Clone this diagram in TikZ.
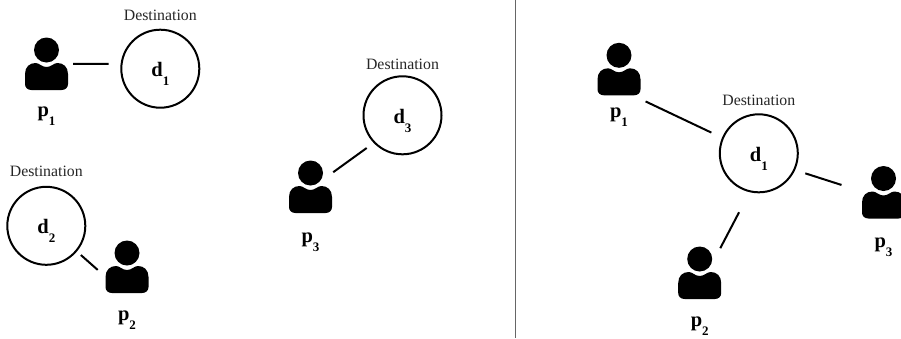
\documentclass[tikz,border=0pt]{standalone}
\usepackage{fontspec}
\setmainfont{Liberation Serif}
\usetikzlibrary{positioning}
\newcommand{\sublabel}[2]{\fontsize{20.5}{22}\selectfont\textbf{#1}\raisebox{-9pt}{\fontsize{13}{13}\selectfont\textbf{#2}}}
\tikzset{
    person/.style={minimum width=44pt, minimum height=53pt, inner sep=0pt, outer sep=0pt,
        path picture={
            \begin{scope}[shift={(path picture bounding box.center)}]
                \fill[black] (0,-14) circle (12.5);
                \fill[black] (-15,26) .. controls (-19,26) and (-21.5,23.5) .. (-21.5,20)
                    -- (-21.5,10) .. controls (-21.5,3) and (-17,-1) .. (-11,-1)
                    .. controls (-7,-1) and (-5,3) .. (0,3)
                    .. controls (5,3) and (7,-1) .. (11,-1)
                    .. controls (17,-1) and (21.5,3) .. (21.5,10)
                    -- (21.5,20) .. controls (21.5,23.5) and (19,26) .. (15,26) -- cycle;
            \end{scope}
        }},
    dest/.style={circle, draw=black, line width=2pt, minimum size=78pt, inner sep=0pt, outer sep=0pt,
        text height=16pt, text depth=0pt},
    desttext/.style={inner sep=0pt, font=\fontsize{15.8}{17}\selectfont, text=black!85},
    plabel/.style={inner sep=0pt},
    link/.style={draw=black, line width=2pt}
}
\begin{document}
\begin{tikzpicture}[x=1pt,y=-1pt]
        \useasboundingbox (0,0) rectangle (901,338);
        % Left panel
        \node[person]                   (p1) at (46.5,64) {};
        \node[person]                   (p2) at (127,267) {};
        \node[person]                   (p3) at (310.5,187) {};
        \node[dest]                     (d1) at (160.3,68.7) {\sublabel{d}{1}};
        \node[dest]                     (d2) at (46.3,225.8) {\sublabel{d}{2}};
        \node[dest]                     (d3) at (402.5,115.3) {\sublabel{d}{3}};
        \node[plabel, below=16pt of p1] (l1) {\sublabel{p}{1}};
        \node[plabel, below=17.5pt of p2] (l2) {\sublabel{p}{2}};
        \node[plabel, below=19pt of p3] (l3) {\sublabel{p}{3}};
        \node[desttext, above=8.7pt of d1] (t1) {Destination};
        \node[desttext, above=10pt of d2]  (t2) {Destination};
        \node[desttext, above=6.3pt of d3] (t3) {Destination};
        % Divider
        \coordinate (top) at (515.3,0);
        \coordinate (bot) at (515.3,338);
        \draw[black!60, line width=1.3pt] (top) -- (bot);
        % Right panel
        \node[person]                    (rp1) at (619,69.3) {};
        \node[person]                    (rp2) at (699.7,273) {};
        \node[person]                    (rp3) at (883.5,192.5) {};
        \node[dest]                      (rd1) at (758.8,153.3) {\sublabel{d}{1}};
        \node[plabel, below=11.7pt of rp1] (rl1) {\sublabel{p}{1}};
        \node[plabel, below=17pt of rp2]   (rl2) {\sublabel{p}{2}};
        \node[plabel, below=18.4pt of rp3] (rl3) {\sublabel{p}{3}};
        \node[desttext, above=8.3pt of rd1] (rt1) {Destination};

        \draw[link, shorten <=4.5pt, shorten >=13pt]  (p1.east) -- (d1.173);
        \draw[link, shorten <=6.3pt, shorten >=9.7pt] (d2.-40) -- (p2.203);
        \draw[link, shorten <=0.9pt, shorten >=9.6pt] (p3.33) -- (d3.224);
        \draw[link, shorten <=13.2pt, shorten >=12.8pt] (rp1.-61) -- (rd1.157.4);
        \draw[link, shorten <=-1.9pt, shorten >=23.6pt] (rp2.51) -- (rd1.257);
        \draw[link, shorten <=11.7pt, shorten >=21pt] (rd1.-25) -- (rp3.177);
    \end{tikzpicture}
\end{document}
